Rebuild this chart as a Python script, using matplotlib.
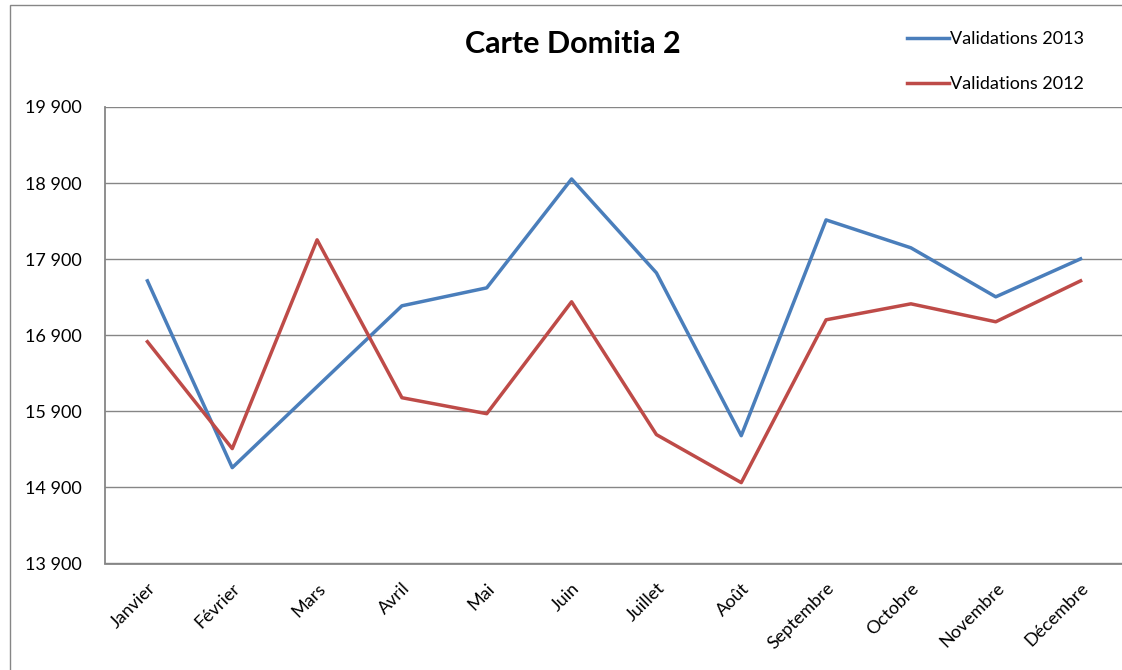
import matplotlib
matplotlib.use("Agg")
import matplotlib.pyplot as plt
from matplotlib.patches import Rectangle

plt.rcParams['font.family'] = ['Lato', 'DejaVu Sans']

months = ["Janvier", "Février", "Mars", "Avril", "Mai", "Juin", "Juillet",
          "Août", "Septembre", "Octobre", "Novembre", "Décembre"]
val_2013 = [17615, 15160, 16224, 17287, 17523, 18954, 17720, 15580,
            18416, 18049, 17405, 17904]
val_2012 = [16815, 15410, 18154, 16079, 15869, 17340, 15594, 14963,
            17103, 17313, 17077, 17615]
y_ticks = [13900, 14900, 15900, 16900, 17900, 18900, 19900]
y_labels = ["13 900", "14 900", "15 900", "16 900", "17 900", "18 900", "19 900"]

W, H = 1122, 670
fig = plt.figure(figsize=(W / 100, H / 100), dpi=100)
fig.patch.set_facecolor("white")

# outer chart frame (cut off at the right and bottom in the source)
fig.patches.append(Rectangle((10 / W, -0.05), 1.2, 1 - 5 / H + 0.05,
                             transform=fig.transFigure, fill=False,
                             edgecolor="#868686", linewidth=1.0))

ax = fig.add_axes([105 / W, (H - 563.5) / H, 1018 / W, 456.5 / H])
x = list(range(len(months)))
ax.plot(x, val_2013, color="#4A7EBB", linewidth=2.5, label="Validations 2013",
        solid_joinstyle="round")
ax.plot(x, val_2012, color="#BE4B48", linewidth=2.5, label="Validations 2012",
        solid_joinstyle="round")

ax.set_xlim(-0.5, len(months) - 0.5)
ax.set_ylim(13900, 19900)
ax.set_yticks(y_ticks)
ax.set_yticklabels(y_labels, fontsize=13)
ax.yaxis.grid(True, color="#868686", linewidth=1.0)
ax.set_axisbelow(True)
ax.tick_params(axis="y", length=0, pad=17)
ax.tick_params(axis="x", length=0, pad=12)
ax.set_xticks(x)
ax.set_xticklabels(months, fontsize=13, rotation=45, ha="right",
                   rotation_mode="anchor")
for s in ["top", "right"]:
    ax.spines[s].set_visible(False)
for s in ["left", "bottom"]:
    ax.spines[s].set_color("#868686")
    ax.spines[s].set_linewidth(1.3)

fig.text(573 / W, 1 - 44 / H, "Carte Domitia 2", fontsize=22, fontweight="bold",
         ha="center", va="center")

fig.legend(loc="upper left", bbox_to_anchor=(891 / W, 1 - 15 / H), frameon=False,
           fontsize=13, handlelength=2.3, handletextpad=0.05, labelspacing=1.6)

fig.savefig("out.png", dpi=100)
